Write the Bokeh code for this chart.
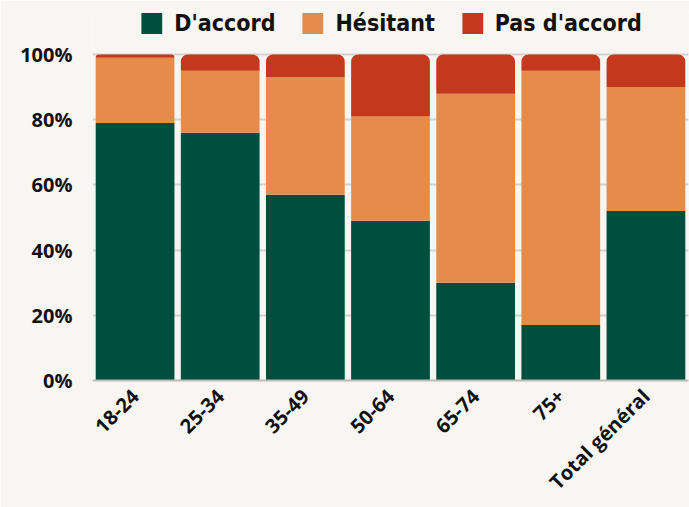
from bokeh.plotting import figure
from bokeh.models import ColumnDataSource, Legend, LegendItem, FactorRange, CustomJSTickFormatter
from bokeh.embed import file_html
from bokeh.resources import INLINE
import math

categories = ["18-24", "25-34", "35-49", "50-64", "65-74", "75+", "Total général"]
d_accord = [79, 76, 57, 49, 30, 17, 52]
hesitant = [20, 19, 36, 32, 58, 78, 38]
pas_accord = [1, 5, 7, 19, 12, 5, 10]
series_names = ["D'accord", "Hésitant", "Pas d'accord"]
colors = ["#004E3E", "#E58C4A", "#C4391D"]
y_ticks = [0, 20, 40, 60, 80, 100]

b1 = [a + b for a, b in zip(d_accord, hesitant)]
b2 = [a + c for a, c in zip(b1, pas_accord)]
src = ColumnDataSource(dict(cat=categories, d=d_accord, b1=b1, b2=b2, zero=[0] * len(categories)))

bg = "#F7F6F2"
p = figure(x_range=FactorRange(*categories, range_padding=0), y_range=(0, 113.5),
           width=689, height=507, output_backend="svg", toolbar_location=None,
           background_fill_color=bg, border_fill_color=bg, outline_line_color=None,
           min_border_left=92, min_border_right=1, min_border_top=10, min_border_bottom=126)

W = 0.925
r1 = p.vbar(x="cat", top="d", bottom="zero", width=W, source=src, fill_color=colors[0], line_color=None)
r2 = p.vbar(x="cat", top="b1", bottom="d", width=W, source=src, fill_color=colors[1], line_color=None)
r3 = p.vbar(x="cat", top="b2", bottom="b1", width=W, source=src, fill_color=colors[2], line_color=None,
            border_radius=(7, 7, 0, 0))

legend = Legend(items=[LegendItem(label=series_names[0], renderers=[r1]),
                       LegendItem(label=series_names[1], renderers=[r2]),
                       LegendItem(label=series_names[2], renderers=[r3])],
                orientation="horizontal", location="top_center",
                background_fill_alpha=0, border_line_color=None,
                label_text_font="'DejaVu Sans Condensed', Roboto", label_text_font_style="bold",
                label_text_font_size="23px", label_text_color="#111111",
                glyph_width=26, glyph_height=26,
                label_standoff=10, spacing=24, padding=1, margin=0)
p.add_layout(legend, "center")

p.xgrid.grid_line_color = None
p.ygrid.ticker = y_ticks
p.ygrid.grid_line_color = "#D3D1CC"
p.ygrid.grid_line_width = 2
p.yaxis.ticker = y_ticks
p.yaxis.formatter = CustomJSTickFormatter(code="return tick + '%';")
p.yaxis.axis_line_color = None
p.yaxis.major_tick_line_color = None
p.yaxis.minor_tick_line_color = None
p.yaxis.major_label_text_font = "Open Sans"
p.yaxis.major_label_text_font_style = "bold"
p.yaxis.major_label_text_font_size = "20px"
p.yaxis.major_label_text_color = "#111111"
p.yaxis.major_label_standoff = 14

p.xaxis.axis_line_color = "#BDBBB6"
p.xaxis.axis_line_width = 2
p.xaxis.major_tick_line_color = None
p.xaxis.minor_tick_line_color = None
p.xaxis.major_label_orientation = math.pi / 4
p.xaxis.major_label_text_font = "Open Sans"
p.xaxis.major_label_text_font_style = "bold"
p.xaxis.major_label_text_font_size = "20px"
p.xaxis.major_label_text_color = "#111111"
p.xaxis.major_label_standoff = 6

open("out.html", "w").write(file_html(p, INLINE))
